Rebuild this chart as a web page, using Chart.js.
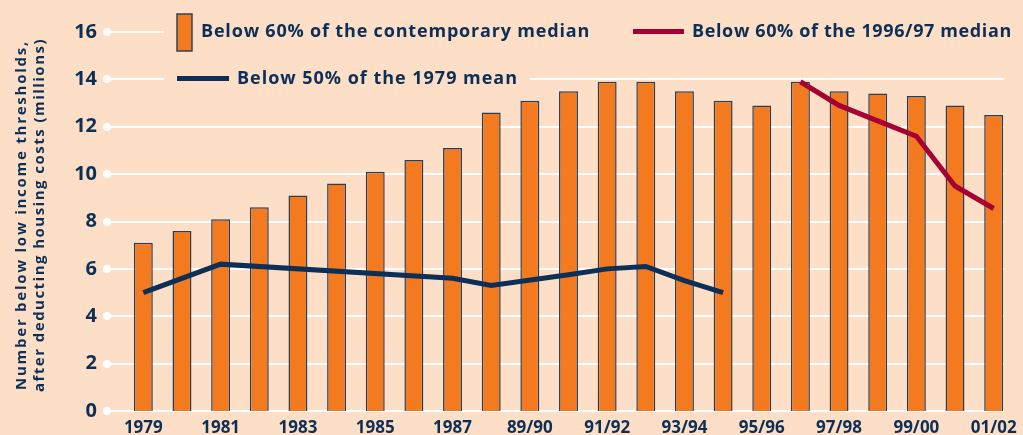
<!DOCTYPE html>
<html>
<head>
<meta charset="utf-8">
<script src="https://cdn.jsdelivr.net/npm/chart.js@4.4.1/dist/chart.umd.min.js"></script>
<style>
  html, body { margin: 0; padding: 0; background: #fddfc7; }
  #wrap { width: 1023px; height: 435px; }
</style>
</head>
<body>
<div id="wrap"><canvas id="chart" width="1023" height="435"></canvas></div>
<script>
const years = [
  "1979", "1980", "1981", "1982", "1983", "1984", "1985", "1986", "1987",
  "88/89", "89/90", "90/91", "91/92", "92/93", "93/94", "94/95", "95/96",
  "96/97", "97/98", "98/99", "99/00", "00/01", "01/02",
];
// only every other year gets a label under the axis
const shownLabels = [
  "1979", "1981", "1983", "1985", "1987", "89/90", "91/92", "93/94",
  "95/96", "97/98", "99/00", "01/02",
];
const contemporaryMedian = [
  7.1, 7.6, 8.1, 8.6, 9.1, 9.6, 10.1, 10.6, 11.1, 12.6, 13.1, 13.5,
  13.9, 13.9, 13.5, 13.1, 12.9, 13.9, 13.5, 13.4, 13.3, 12.9, 12.5,
];
const fixed1979Mean = [
  5.0, null, 6.2, null, null, null, null, null, 5.6, 5.3, null, 5.75,
  6.0, 6.1, 5.5, 5.0, null, null, null, null, null, null, null,
];
const fixed1996Median = [
  null, null, null, null, null, null, null, null, null, null, null, null,
  null, null, null, null, null, 13.9, 12.9, 12.25, 11.6, 9.5, 8.55,
];
const yTicks = [0, 2, 4, 6, 8, 10, 12, 14, 16];

const BG = "#fddfc7";
const NAVY = "#0c2f57";
const ORANGE = "#f47a20";
const RED = "#a50034";
const FONT = "'Open Sans', 'DejaVu Sans', sans-serif";

// set letter spacing so a string fills roughly the width it has in the original
function fitText(ctx, text, width) {
  ctx.letterSpacing = "0px";
  const w = ctx.measureText(text).width;
  const sp = (width - w) / text.length;
  ctx.letterSpacing = `${sp.toFixed(2)}px`;
}

const decorPlugin = {
  id: "decor",
  beforeDatasetsDraw(chart) {
    const ctx = chart.ctx;
    const y = chart.scales.y;
    ctx.save();
    // grid lines with white dots at the left end
    ctx.strokeStyle = "#ffffff";
    ctx.fillStyle = "#ffffff";
    ctx.lineWidth = 2;
    for (const v of yTicks) {
      const py = Math.round(y.getPixelForValue(v));
      ctx.beginPath();
      ctx.moveTo(107, py);
      ctx.lineTo(1004, py);
      ctx.stroke();
      ctx.beginPath();
      ctx.arc(107, py, 4, 0, Math.PI * 2);
      ctx.fill();
    }
    // legend, covering the grid behind it
    ctx.fillStyle = BG;
    ctx.fillRect(164, 12, 850, 42);
    ctx.fillRect(164, 66, 366, 26);

    ctx.fillStyle = ORANGE;
    ctx.fillRect(177, 14, 15, 37);
    ctx.strokeStyle = "#2b4560";
    ctx.lineWidth = 1.5;
    ctx.strokeRect(177, 14, 15, 37);

    ctx.fillStyle = RED;
    ctx.fillRect(633, 29, 51, 5);
    ctx.fillStyle = NAVY;
    ctx.fillRect(177, 76, 52, 5);

    ctx.font = `bold 18px ${FONT}`;
    ctx.textBaseline = "middle";
    ctx.textAlign = "left";
    ctx.fillStyle = NAVY;
    let t = "Below 60% of the contemporary median";
    fitText(ctx, t, 389);
    ctx.fillText(t, 201, 32);
    t = "Below 60% of the 1996/97 median";
    fitText(ctx, t, 320);
    ctx.fillText(t, 692, 32);
    t = "Below 50% of the 1979 mean";
    fitText(ctx, t, 281);
    ctx.fillText(t, 237, 79);

    // axis title, two rotated lines
    ctx.font = `bold 15px ${FONT}`;
    ctx.textAlign = "center";
    ctx.translate(0, 215);
    ctx.rotate(-Math.PI / 2);
    t = "Number below low income thresholds,";
    fitText(ctx, t, 350);
    ctx.fillText(t, 0, 22);
    t = "after deducting housing costs (millions)";
    fitText(ctx, t, 354);
    ctx.fillText(t, 0, 40);
    ctx.restore();
  },
};

function noPadding(s) {
  s.paddingTop = 0;
  s.paddingBottom = 0;
  s.paddingLeft = 0;
  s.paddingRight = 0;
}

new Chart(document.getElementById("chart"), {
  data: {
    labels: years,
    datasets: [
      {
        type: "line",
        label: "Below 50% of the 1979 mean",
        data: fixed1979Mean,
        borderColor: NAVY,
        borderWidth: 5,
        pointRadius: 0,
        spanGaps: true,
        tension: 0,
        order: 0,
      },
      {
        type: "line",
        label: "Below 60% of the 1996/97 median",
        data: fixed1996Median,
        borderColor: RED,
        borderWidth: 5,
        pointRadius: 0,
        spanGaps: true,
        tension: 0,
        order: 0,
      },
      {
        type: "bar",
        label: "Below 60% of the contemporary median",
        data: contemporaryMedian,
        backgroundColor: ORANGE,
        borderColor: "#243f5c",
        borderWidth: 1.5,
        barPercentage: 0.49,
        categoryPercentage: 1,
        order: 1,
      },
    ],
  },
  options: {
    responsive: false,
    animation: false,
    layout: { padding: { left: 0, right: 10, top: 32, bottom: 0 } },
    plugins: {
      legend: { display: false },
      tooltip: { enabled: false },
    },
    scales: {
      x: {
        grid: { display: false, drawTicks: false },
        border: { display: false },
        afterFit: (s) => { s.height = 24; noPadding(s); },
        ticks: {
          autoSkip: false,
          maxRotation: 0,
          padding: 7,
          color: NAVY,
          font: { family: FONT, weight: "bold", size: 17 },
          callback: (value, index) =>
            shownLabels.includes(years[index]) ? years[index] : "",
        },
      },
      y: {
        min: 0,
        max: 16,
        grid: { display: false, drawTicks: false },
        border: { display: false },
        afterFit: (s) => { s.width = 124; noPadding(s); },
        ticks: {
          stepSize: 2,
          padding: 27,
          color: NAVY,
          font: { family: FONT, weight: "bold", size: 20 },
        },
      },
    },
  },
  plugins: [decorPlugin],
});
</script>
</body>
</html>
